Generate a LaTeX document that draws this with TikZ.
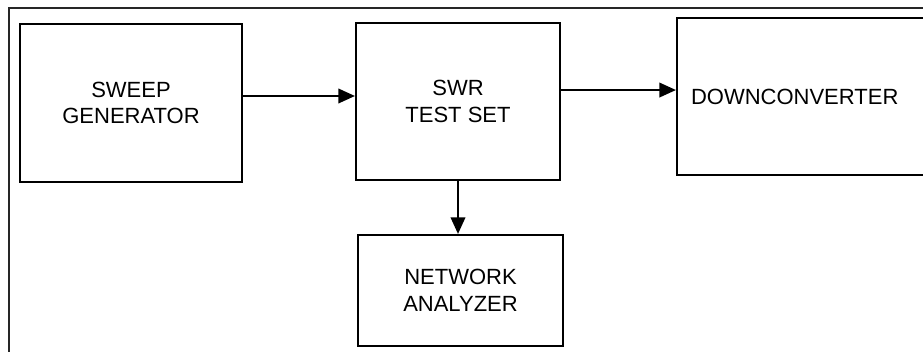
\documentclass[tikz,border=0pt]{standalone}
\usepackage{fontspec}
\setmainfont{Liberation Sans}
\usetikzlibrary{arrows.meta}
\begin{document}
\begin{tikzpicture}[x=0.75pt, y=-0.75pt,
    block/.style={draw, line width=1.6pt, align=center, inner sep=0pt,
        font=\fontsize{16.5}{20}\selectfont},
    flow/.style={line width=1.4pt, -{Triangle[length=12.5pt, width=11pt]}}]
        % page size and frame (cut at right and bottom)
        \useasboundingbox (0,0) rectangle (923,352);
        \draw[line width=0.9pt, black!85] (9,360) -- (9,8) -- (930,8);

        % Blocks
        \node[block, minimum width=166.5pt, minimum height=118.5pt] (sweep) at (131,103) {SWEEP\\GENERATOR};
        \node[block, minimum width=153pt, minimum height=117.75pt] (swr) at (458,101.5) {SWR\\TEST SET};
        \node[block, minimum height=117.75pt, text width=191.25pt, inner xsep=10.5pt, align=left] (down) at (818.5,96.5) {DOWNCONVERTER};
        \node[block, minimum width=153.75pt, minimum height=83.25pt] (nwa) at (460.5,290.5) {NETWORK\\ANALYZER};

        % Signal path
        \coordinate (out1) at ([yshift=5.25pt]sweep.east);
        \coordinate (out2) at ([yshift=8.6pt]swr.east);
        \draw[flow] (out1) -- (out1 -| swr.west);
        \draw[flow] (out2) -- (out2 -| down.west);
        \draw[flow] (swr.south) -- (swr.south |- nwa.north);

    \end{tikzpicture}
\end{document}
